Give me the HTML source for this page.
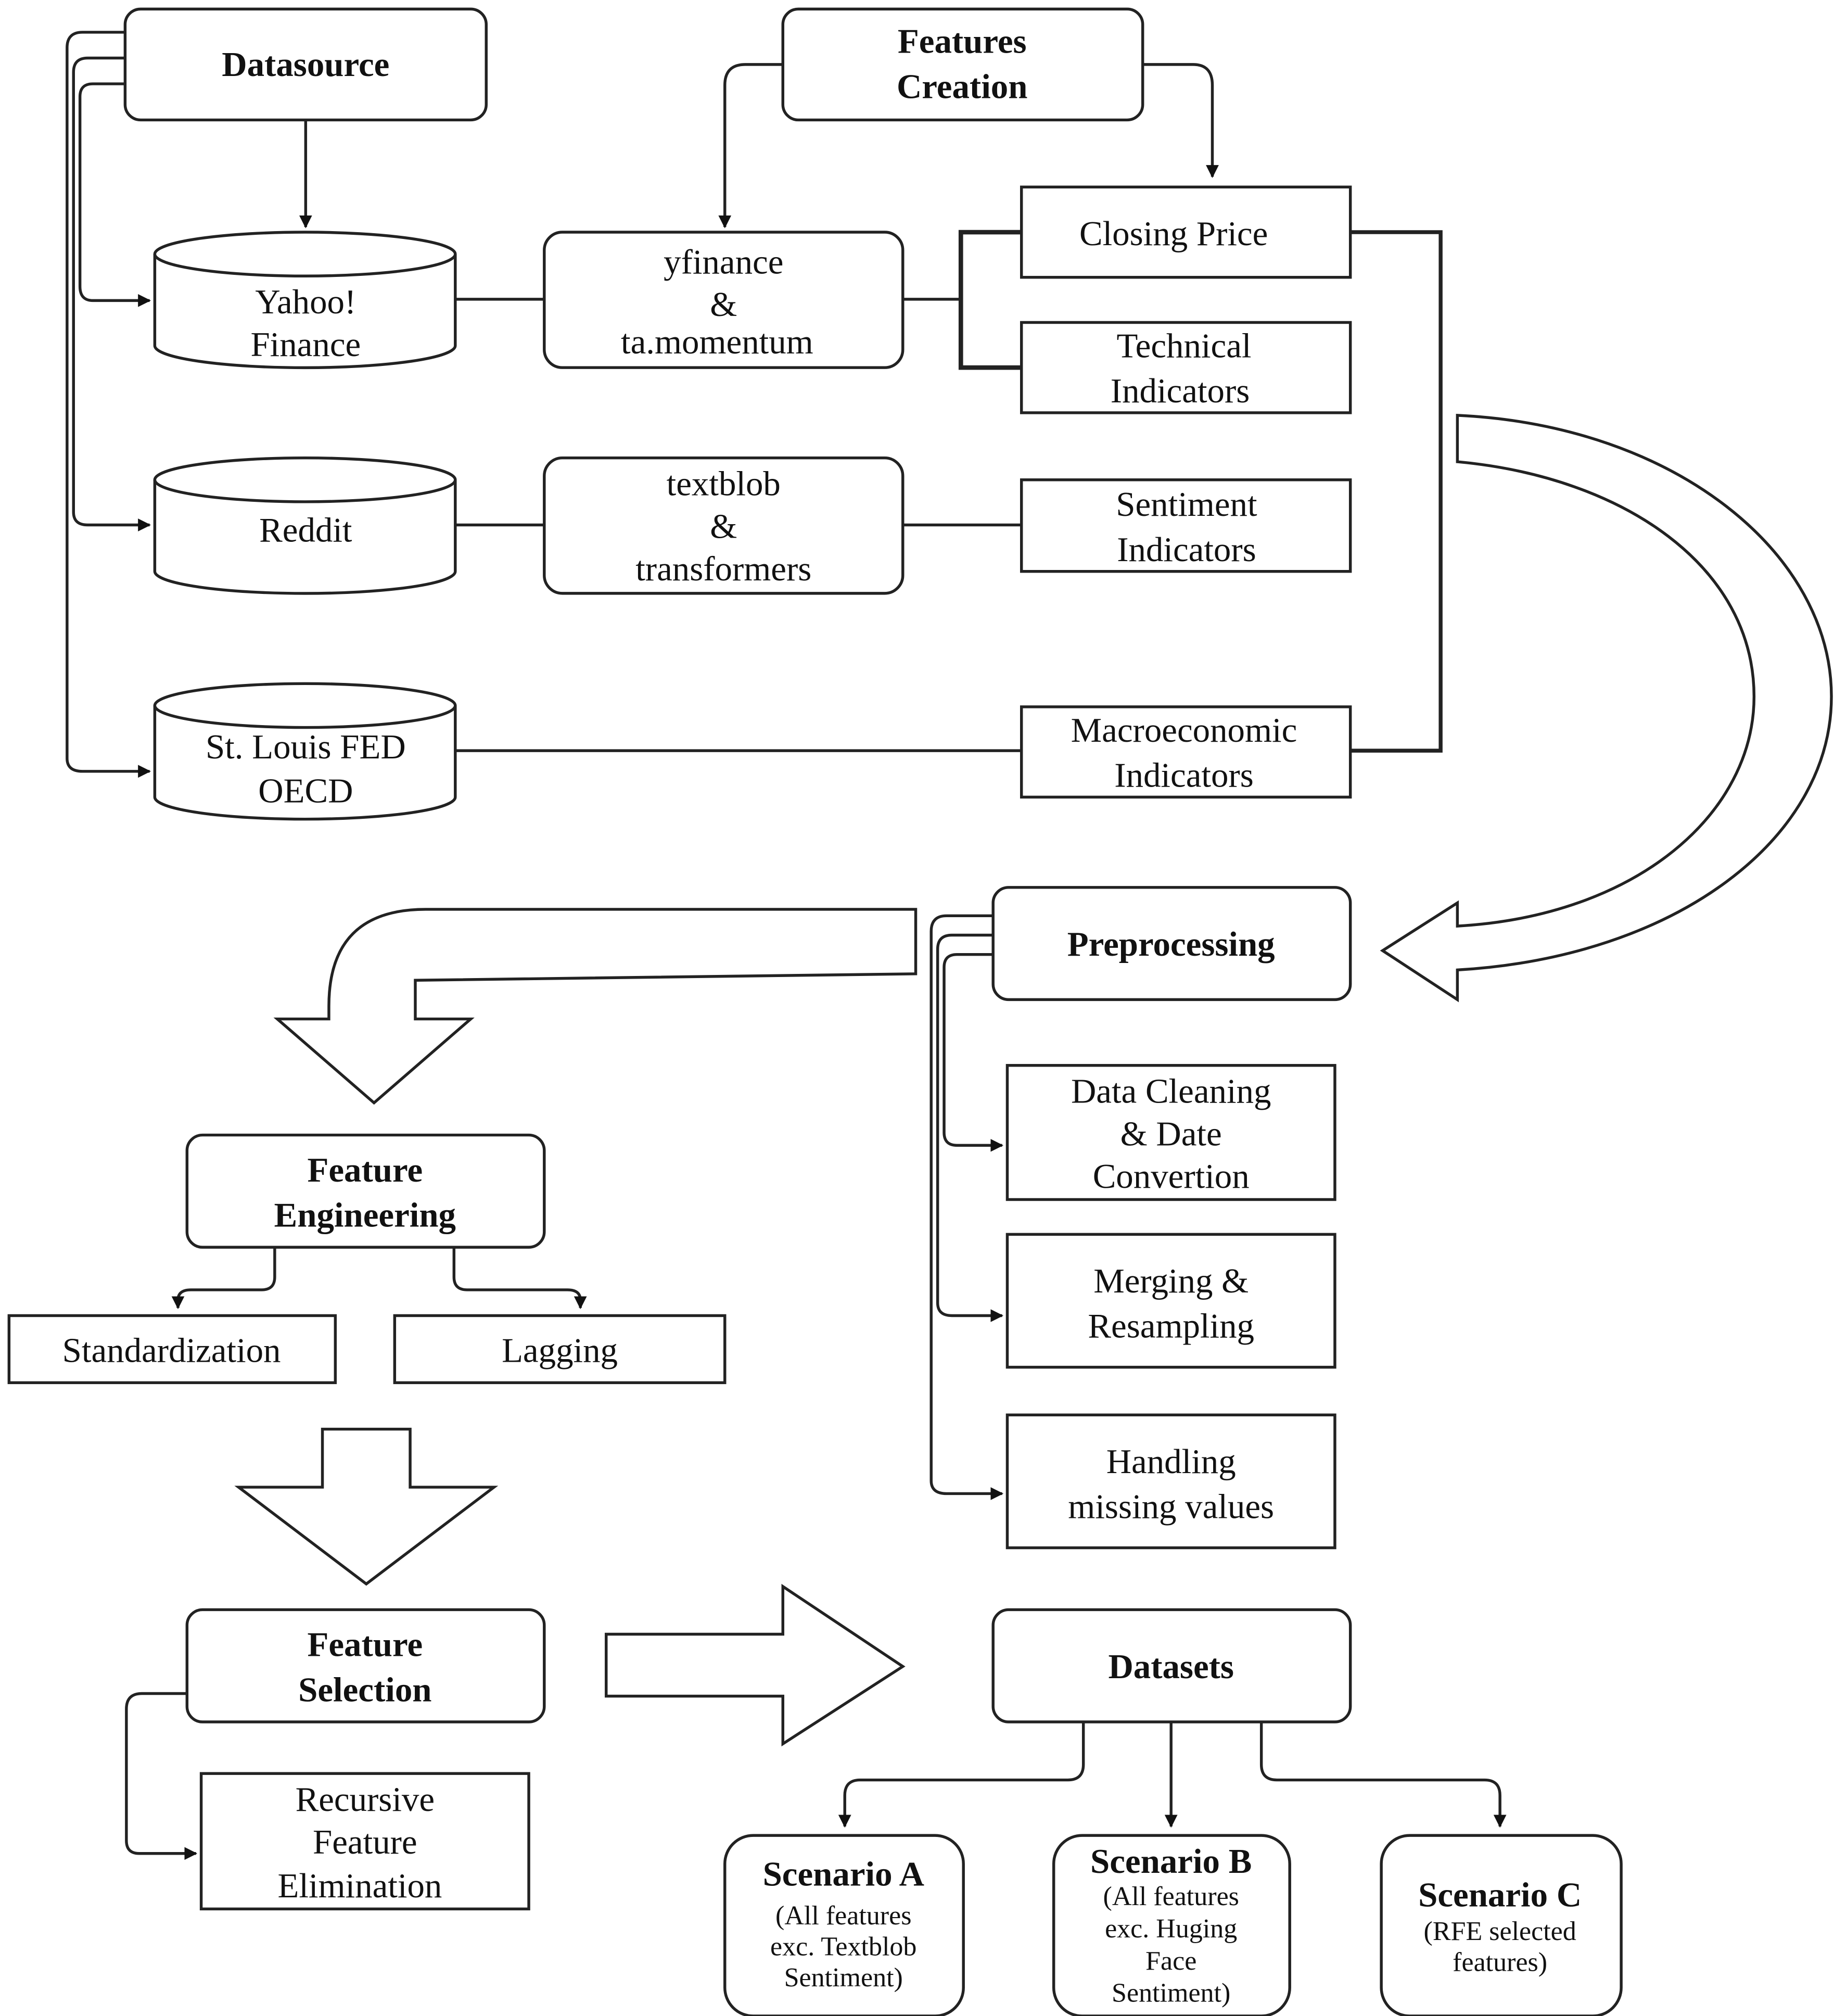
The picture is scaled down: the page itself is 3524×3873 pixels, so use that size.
<!DOCTYPE html>
<html><head><meta charset="utf-8"><style>
html,body{margin:0;padding:0;background:#fff}
svg{display:block}
text{font-family:"Liberation Serif",serif;fill:#111;text-anchor:middle}
.b{font-weight:bold}
</style></head><body>
<svg width="3524" height="3873" viewBox="0 0 1422 1563" preserveAspectRatio="none" xmlns="http://www.w3.org/2000/svg">
<defs>
<marker id="a" markerWidth="10" markerHeight="10" refX="9" refY="5" orient="auto" markerUnits="userSpaceOnUse"><path d="M0,0 L10,5 L0,10 Z" fill="#111"/></marker>
</defs>
<g fill="none" stroke="#222" stroke-width="2.2">
<!-- top boxes -->
<rect x="97" y="7" width="280" height="86" rx="12" fill="#fff"/>
<rect x="607" y="7" width="279" height="86" rx="12" fill="#fff"/>
<!-- datasource left lines -->
<path d="M97 25 H64 Q52 25 52 37 V588 Q52 598 64 598 H116" marker-end="url(#a)"/>
<path d="M97 45 H68 Q57 45 57 56 V397 Q57 407 68 407 H116" marker-end="url(#a)"/>
<path d="M97 65 H72 Q62 65 62 75 V222 Q62 233 72 233 H116" marker-end="url(#a)"/>
<path d="M237 93 V176" marker-end="url(#a)"/>
<!-- features creation arrows -->
<path d="M607 50 H578 Q562 50 562 66 V176" marker-end="url(#a)"/>
<path d="M886 50 H925 Q940 50 940 66 V137" marker-end="url(#a)"/>
<!-- cylinders -->
<path d="M120 197 V268 A116 17 0 0 0 353 268 V197" fill="#fff"/>
<ellipse cx="236.5" cy="197" rx="116.5" ry="17" fill="#fff"/>
<path d="M120 372 V443 A116 17 0 0 0 353 443 V372" fill="#fff"/>
<ellipse cx="236.5" cy="372" rx="116.5" ry="17" fill="#fff"/>
<path d="M120 547 V618 A116 17 0 0 0 353 618 V547" fill="#fff"/>
<ellipse cx="236.5" cy="547" rx="116.5" ry="17" fill="#fff"/>
<!-- process boxes -->
<rect x="422" y="180" width="278" height="105" rx="14" fill="#fff"/>
<rect x="422" y="355" width="278" height="105" rx="14" fill="#fff"/>
<rect x="792" y="145" width="255" height="70" fill="#fff"/>
<rect x="792" y="250" width="255" height="70" fill="#fff"/>
<rect x="792" y="372" width="255" height="71" fill="#fff"/>
<rect x="792" y="548" width="255" height="70" fill="#fff"/>
<!-- connectors -->
<path d="M353 232 H422"/>
<path d="M700 232 H745"/>
<path d="M792 180 H745 V285 H792" stroke-width="3.5"/>
<path d="M353 407 H422 M700 407 H792"/>
<path d="M353 582 H792"/>
<path d="M1047 180 H1117 V582 H1047" stroke-width="3"/>
<!-- big curved arrow right -->
<path d="M1130 322 C1300 330 1420 430 1420 540 C1420 650 1300 742 1130 752 L1130 775 L1072 737 L1130 700 L1130 718 C1270 710 1360 630 1360 540 C1360 440 1260 370 1130 358 Z" fill="#fff"/>
<!-- preprocessing -->
<rect x="770" y="688" width="277" height="87" rx="12" fill="#fff"/>
<path d="M770 710 H734 Q722 710 722 722 V1148 Q722 1158 734 1158 H777" marker-end="url(#a)"/>
<path d="M770 725 H738 Q727 725 727 736 V1010 Q727 1020 738 1020 H777" marker-end="url(#a)"/>
<path d="M770 740 H742 Q732 740 732 750 V878 Q732 888 742 888 H777" marker-end="url(#a)"/>
<rect x="781" y="826" width="254" height="104" fill="#fff"/>
<rect x="781" y="957" width="254" height="103" fill="#fff"/>
<rect x="781" y="1097" width="254" height="103" fill="#fff"/>
<!-- curved arrow left -->
<path d="M710 705 L330 705 Q255 705 255 780 L255 790 L215 790 L290 855 L365 790 L322 790 L322 760 L710 755 Z" fill="#fff"/>
<!-- feature engineering -->
<rect x="145" y="880" width="277" height="87" rx="12" fill="#fff"/>
<path d="M213 967 V990 Q213 1000 203 1000 H148 Q138 1000 138 1008 V1014" marker-end="url(#a)"/>
<path d="M352 967 V990 Q352 1000 362 1000 H440 Q450 1000 450 1008 V1014" marker-end="url(#a)"/>
<rect x="7" y="1020" width="253" height="52" fill="#fff"/>
<rect x="306" y="1020" width="256" height="52" fill="#fff"/>
<path d="M250 1108 H318 V1153 H383 L284 1228 L185 1153 H250 Z" fill="#fff"/>
<!-- feature selection -->
<rect x="145" y="1248" width="277" height="87" rx="12" fill="#fff"/>
<path d="M145 1313 H110 Q98 1313 98 1325 V1427 Q98 1437 108 1437 H152" marker-end="url(#a)"/>
<rect x="156" y="1375" width="254" height="105" fill="#fff"/>
<path d="M470 1267 H607 V1230 L700 1292 L607 1352 V1315 H470 Z" fill="#fff"/>
<!-- datasets -->
<rect x="770" y="1248" width="277" height="87" rx="12" fill="#fff"/>
<path d="M840 1335 V1368 Q840 1380 828 1380 H667 Q655 1380 655 1392 V1416" marker-end="url(#a)"/>
<path d="M908 1335 V1416" marker-end="url(#a)"/>
<path d="M978 1335 V1368 Q978 1380 990 1380 H1151 Q1163 1380 1163 1392 V1416" marker-end="url(#a)"/>
<rect x="562" y="1423" width="185" height="140" rx="22" fill="#fff"/>
<rect x="817" y="1423" width="183" height="140" rx="22" fill="#fff"/>
<rect x="1071" y="1423" width="186" height="140" rx="22" fill="#fff"/>
</g>
<g font-size="27">
<text x="237" y="59" class="b">Datasource</text>
<text x="746" y="41" class="b">Features</text>
<text x="746" y="76" class="b">Creation</text>
<text x="237" y="243">Yahoo!</text>
<text x="237" y="276">Finance</text>
<text x="237" y="420">Reddit</text>
<text x="237" y="588">St. Louis FED</text>
<text x="237" y="622">OECD</text>
<text x="561" y="212">yfinance</text>
<text x="561" y="245">&amp;</text>
<text x="556" y="274">ta.momentum</text>
<text x="561" y="384">textblob</text>
<text x="561" y="417">&amp;</text>
<text x="561" y="450">transformers</text>
<text x="910" y="190">Closing Price</text>
<text x="918" y="277">Technical</text>
<text x="915" y="312">Indicators</text>
<text x="920" y="400">Sentiment</text>
<text x="920" y="435">Indicators</text>
<text x="918" y="575">Macroeconomic</text>
<text x="918" y="610">Indicators</text>
<text x="908" y="741" class="b">Preprocessing</text>
<text x="908" y="855">Data Cleaning</text>
<text x="908" y="888">&amp; Date</text>
<text x="908" y="921">Convertion</text>
<text x="908" y="1002">Merging &amp;</text>
<text x="908" y="1037">Resampling</text>
<text x="908" y="1142">Handling</text>
<text x="908" y="1177">missing values</text>
<text x="283" y="916" class="b">Feature</text>
<text x="283" y="951" class="b">Engineering</text>
<text x="133" y="1056">Standardization</text>
<text x="434" y="1056">Lagging</text>
<text x="283" y="1284" class="b">Feature</text>
<text x="283" y="1319" class="b">Selection</text>
<text x="283" y="1404">Recursive</text>
<text x="283" y="1437">Feature</text>
<text x="279" y="1471">Elimination</text>
<text x="908" y="1301" class="b">Datasets</text>
<text x="654" y="1462" class="b">Scenario A</text>
<text x="908" y="1452" class="b">Scenario B</text>
<text x="1163" y="1478" class="b">Scenario C</text>
</g>
<g font-size="21">
<text x="654" y="1492">(All features</text>
<text x="654" y="1516">exc. Textblob</text>
<text x="654" y="1540">Sentiment)</text>
<text x="908" y="1477">(All features</text>
<text x="908" y="1502">exc. Huging</text>
<text x="908" y="1527">Face</text>
<text x="908" y="1552">Sentiment)</text>
<text x="1163" y="1504">(RFE selected</text>
<text x="1163" y="1528">features)</text>
</g>
</svg>
</body></html>
